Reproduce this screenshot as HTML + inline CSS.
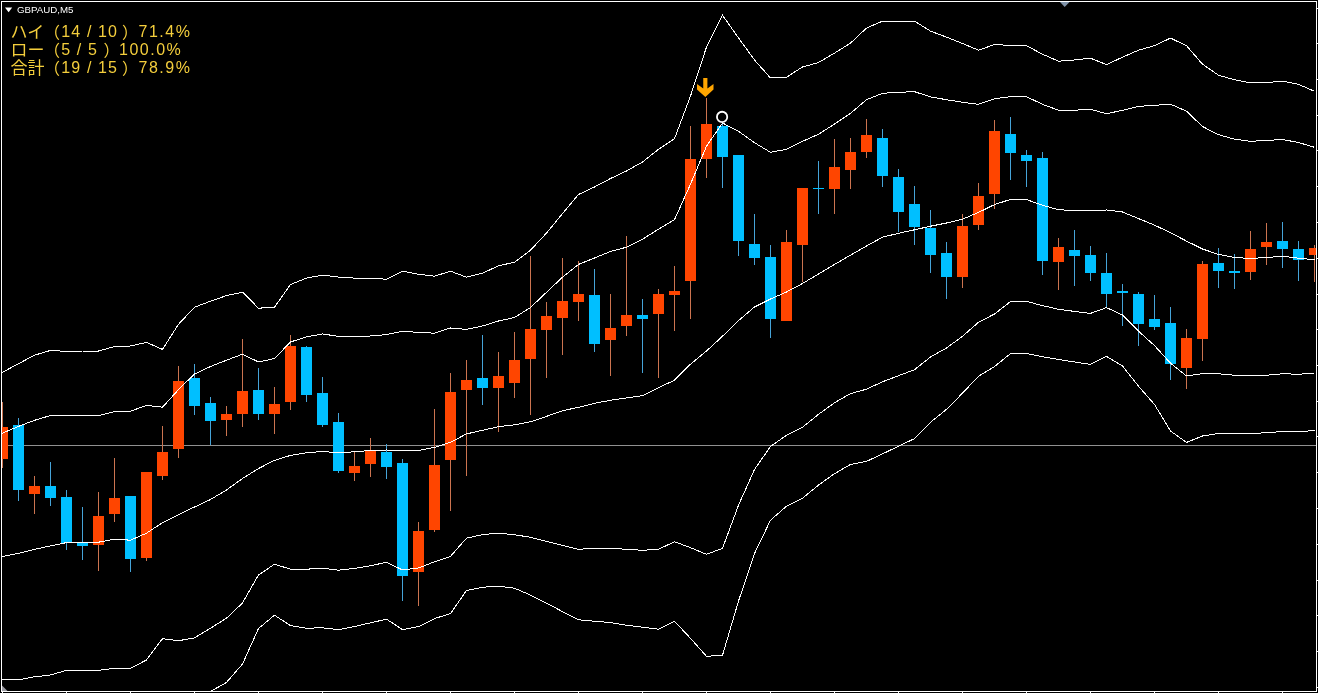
<!DOCTYPE html>
<html lang="ja"><head><meta charset="utf-8"><title>GBPAUD,M5</title>
<style>
html,body{margin:0;padding:0;background:#000;}
body{width:1318px;height:693px;position:relative;overflow:hidden;font-family:"Liberation Sans","Noto Sans CJK JP",sans-serif;}
#title{position:absolute;left:17px;top:3.5px;color:#fff;font-size:9.7px;line-height:11px;white-space:nowrap;}
.st{position:absolute;left:0;color:#F4CE3C;font-size:16px;line-height:18px;height:18px;white-space:nowrap;}
.st span{position:absolute;top:0;letter-spacing:1.15px;}
.st span.p{letter-spacing:1.5px;}
.st span.j{letter-spacing:0;top:1px;font-family:"Liberation Sans","Noto Sans CJK JP",sans-serif;}
.st span.k{font-size:17px;top:1px;}
</style></head><body>
<svg width="1318" height="693" viewBox="0 0 1318 693" shape-rendering="crispEdges" style="position:absolute;left:0;top:0">
<defs><clipPath id="cp"><rect x="2" y="2" width="1314" height="689"/></clipPath></defs>
<g clip-path="url(#cp)">
<rect x="2" y="445" width="1314" height="1" fill="#909090"/>
<rect x="2" y="402" width="1" height="25" fill="#CC7450"/>
<rect x="2" y="459" width="1" height="9" fill="#CC7450"/>
<rect x="-3" y="427" width="11" height="32" fill="#FF4500"/>
<rect x="18" y="418" width="1" height="7" fill="#46A4D8"/>
<rect x="18" y="490" width="1" height="11" fill="#46A4D8"/>
<rect x="13" y="425" width="11" height="65" fill="#00BFFF"/>
<rect x="34" y="476" width="1" height="10" fill="#CC7450"/>
<rect x="34" y="494" width="1" height="20" fill="#CC7450"/>
<rect x="29" y="486" width="11" height="8" fill="#FF4500"/>
<rect x="50" y="462" width="1" height="24" fill="#46A4D8"/>
<rect x="50" y="498" width="1" height="8" fill="#46A4D8"/>
<rect x="45" y="486" width="11" height="12" fill="#00BFFF"/>
<rect x="66" y="490" width="1" height="7" fill="#46A4D8"/>
<rect x="66" y="543" width="1" height="7" fill="#46A4D8"/>
<rect x="61" y="497" width="11" height="46" fill="#00BFFF"/>
<rect x="82" y="507" width="1" height="35" fill="#46A4D8"/>
<rect x="82" y="546" width="1" height="14" fill="#46A4D8"/>
<rect x="77" y="542" width="11" height="4" fill="#00BFFF"/>
<rect x="98" y="492" width="1" height="24" fill="#CC7450"/>
<rect x="98" y="545" width="1" height="26" fill="#CC7450"/>
<rect x="93" y="516" width="11" height="29" fill="#FF4500"/>
<rect x="114" y="458" width="1" height="40" fill="#CC7450"/>
<rect x="114" y="514" width="1" height="8" fill="#CC7450"/>
<rect x="109" y="498" width="11" height="16" fill="#FF4500"/>
<rect x="130" y="559" width="1" height="13" fill="#46A4D8"/>
<rect x="125" y="496" width="11" height="63" fill="#00BFFF"/>
<rect x="146" y="558" width="1" height="3" fill="#CC7450"/>
<rect x="141" y="472" width="11" height="86" fill="#FF4500"/>
<rect x="162" y="426" width="1" height="26" fill="#CC7450"/>
<rect x="162" y="476" width="1" height="4" fill="#CC7450"/>
<rect x="157" y="452" width="11" height="24" fill="#FF4500"/>
<rect x="178" y="366" width="1" height="15" fill="#CC7450"/>
<rect x="178" y="449" width="1" height="9" fill="#CC7450"/>
<rect x="173" y="381" width="11" height="68" fill="#FF4500"/>
<rect x="194" y="364" width="1" height="14" fill="#46A4D8"/>
<rect x="194" y="406" width="1" height="9" fill="#46A4D8"/>
<rect x="189" y="378" width="11" height="28" fill="#00BFFF"/>
<rect x="210" y="397" width="1" height="6" fill="#46A4D8"/>
<rect x="210" y="421" width="1" height="24" fill="#46A4D8"/>
<rect x="205" y="403" width="11" height="18" fill="#00BFFF"/>
<rect x="226" y="406" width="1" height="8" fill="#CC7450"/>
<rect x="226" y="420" width="1" height="16" fill="#CC7450"/>
<rect x="221" y="414" width="11" height="6" fill="#FF4500"/>
<rect x="242" y="339" width="1" height="52" fill="#CC7450"/>
<rect x="242" y="414" width="1" height="13" fill="#CC7450"/>
<rect x="237" y="391" width="11" height="23" fill="#FF4500"/>
<rect x="258" y="368" width="1" height="22" fill="#46A4D8"/>
<rect x="258" y="414" width="1" height="6" fill="#46A4D8"/>
<rect x="253" y="390" width="11" height="24" fill="#00BFFF"/>
<rect x="274" y="387" width="1" height="17" fill="#CC7450"/>
<rect x="274" y="414" width="1" height="20" fill="#CC7450"/>
<rect x="269" y="404" width="11" height="10" fill="#FF4500"/>
<rect x="290" y="335" width="1" height="11" fill="#CC7450"/>
<rect x="290" y="402" width="1" height="8" fill="#CC7450"/>
<rect x="285" y="346" width="11" height="56" fill="#FF4500"/>
<rect x="306" y="346" width="1" height="1" fill="#46A4D8"/>
<rect x="306" y="395" width="1" height="7" fill="#46A4D8"/>
<rect x="301" y="347" width="11" height="48" fill="#00BFFF"/>
<rect x="322" y="377" width="1" height="16" fill="#46A4D8"/>
<rect x="322" y="425" width="1" height="2" fill="#46A4D8"/>
<rect x="317" y="393" width="11" height="32" fill="#00BFFF"/>
<rect x="338" y="413" width="1" height="9" fill="#46A4D8"/>
<rect x="338" y="471" width="1" height="2" fill="#46A4D8"/>
<rect x="333" y="422" width="11" height="49" fill="#00BFFF"/>
<rect x="354" y="451" width="1" height="15" fill="#CC7450"/>
<rect x="354" y="473" width="1" height="8" fill="#CC7450"/>
<rect x="349" y="466" width="11" height="7" fill="#FF4500"/>
<rect x="370" y="438" width="1" height="12" fill="#CC7450"/>
<rect x="370" y="464" width="1" height="13" fill="#CC7450"/>
<rect x="365" y="450" width="11" height="14" fill="#FF4500"/>
<rect x="386" y="444" width="1" height="8" fill="#46A4D8"/>
<rect x="386" y="467" width="1" height="12" fill="#46A4D8"/>
<rect x="381" y="452" width="11" height="15" fill="#00BFFF"/>
<rect x="402" y="459" width="1" height="4" fill="#46A4D8"/>
<rect x="402" y="576" width="1" height="25" fill="#46A4D8"/>
<rect x="397" y="463" width="11" height="113" fill="#00BFFF"/>
<rect x="418" y="522" width="1" height="9" fill="#CC7450"/>
<rect x="418" y="572" width="1" height="34" fill="#CC7450"/>
<rect x="413" y="531" width="11" height="41" fill="#FF4500"/>
<rect x="434" y="409" width="1" height="56" fill="#CC7450"/>
<rect x="434" y="530" width="1" height="2" fill="#CC7450"/>
<rect x="429" y="465" width="11" height="65" fill="#FF4500"/>
<rect x="450" y="373" width="1" height="19" fill="#CC7450"/>
<rect x="450" y="460" width="1" height="51" fill="#CC7450"/>
<rect x="445" y="392" width="11" height="68" fill="#FF4500"/>
<rect x="466" y="360" width="1" height="20" fill="#CC7450"/>
<rect x="466" y="390" width="1" height="86" fill="#CC7450"/>
<rect x="461" y="380" width="11" height="10" fill="#FF4500"/>
<rect x="482" y="335" width="1" height="43" fill="#46A4D8"/>
<rect x="482" y="388" width="1" height="17" fill="#46A4D8"/>
<rect x="477" y="378" width="11" height="10" fill="#00BFFF"/>
<rect x="498" y="352" width="1" height="24" fill="#CC7450"/>
<rect x="498" y="388" width="1" height="44" fill="#CC7450"/>
<rect x="493" y="376" width="11" height="12" fill="#FF4500"/>
<rect x="514" y="332" width="1" height="28" fill="#CC7450"/>
<rect x="514" y="383" width="1" height="15" fill="#CC7450"/>
<rect x="509" y="360" width="11" height="23" fill="#FF4500"/>
<rect x="530" y="256" width="1" height="73" fill="#CC7450"/>
<rect x="530" y="359" width="1" height="56" fill="#CC7450"/>
<rect x="525" y="329" width="11" height="30" fill="#FF4500"/>
<rect x="546" y="302" width="1" height="14" fill="#CC7450"/>
<rect x="546" y="330" width="1" height="48" fill="#CC7450"/>
<rect x="541" y="316" width="11" height="14" fill="#FF4500"/>
<rect x="562" y="258" width="1" height="43" fill="#CC7450"/>
<rect x="562" y="318" width="1" height="37" fill="#CC7450"/>
<rect x="557" y="301" width="11" height="17" fill="#FF4500"/>
<rect x="578" y="261" width="1" height="33" fill="#CC7450"/>
<rect x="578" y="302" width="1" height="19" fill="#CC7450"/>
<rect x="573" y="294" width="11" height="8" fill="#FF4500"/>
<rect x="594" y="269" width="1" height="26" fill="#46A4D8"/>
<rect x="594" y="344" width="1" height="8" fill="#46A4D8"/>
<rect x="589" y="295" width="11" height="49" fill="#00BFFF"/>
<rect x="610" y="294" width="1" height="34" fill="#CC7450"/>
<rect x="610" y="340" width="1" height="36" fill="#CC7450"/>
<rect x="605" y="328" width="11" height="12" fill="#FF4500"/>
<rect x="626" y="236" width="1" height="79" fill="#CC7450"/>
<rect x="626" y="326" width="1" height="10" fill="#CC7450"/>
<rect x="621" y="315" width="11" height="11" fill="#FF4500"/>
<rect x="642" y="299" width="1" height="16" fill="#46A4D8"/>
<rect x="642" y="319" width="1" height="54" fill="#46A4D8"/>
<rect x="637" y="315" width="11" height="4" fill="#00BFFF"/>
<rect x="658" y="289" width="1" height="5" fill="#CC7450"/>
<rect x="658" y="314" width="1" height="64" fill="#CC7450"/>
<rect x="653" y="294" width="11" height="20" fill="#FF4500"/>
<rect x="674" y="266" width="1" height="25" fill="#CC7450"/>
<rect x="674" y="295" width="1" height="36" fill="#CC7450"/>
<rect x="669" y="291" width="11" height="4" fill="#FF4500"/>
<rect x="690" y="126" width="1" height="33" fill="#CC7450"/>
<rect x="690" y="281" width="1" height="38" fill="#CC7450"/>
<rect x="685" y="159" width="11" height="122" fill="#FF4500"/>
<rect x="706" y="98" width="1" height="26" fill="#CC7450"/>
<rect x="706" y="159" width="1" height="19" fill="#CC7450"/>
<rect x="701" y="124" width="11" height="35" fill="#FF4500"/>
<rect x="722" y="122" width="1" height="4" fill="#46A4D8"/>
<rect x="722" y="157" width="1" height="31" fill="#46A4D8"/>
<rect x="717" y="126" width="11" height="31" fill="#00BFFF"/>
<rect x="738" y="241" width="1" height="15" fill="#46A4D8"/>
<rect x="733" y="155" width="11" height="86" fill="#00BFFF"/>
<rect x="754" y="214" width="1" height="30" fill="#46A4D8"/>
<rect x="754" y="258" width="1" height="7" fill="#46A4D8"/>
<rect x="749" y="244" width="11" height="14" fill="#00BFFF"/>
<rect x="770" y="245" width="1" height="12" fill="#46A4D8"/>
<rect x="770" y="319" width="1" height="19" fill="#46A4D8"/>
<rect x="765" y="257" width="11" height="62" fill="#00BFFF"/>
<rect x="786" y="230" width="1" height="12" fill="#CC7450"/>
<rect x="781" y="242" width="11" height="79" fill="#FF4500"/>
<rect x="802" y="245" width="1" height="37" fill="#CC7450"/>
<rect x="797" y="188" width="11" height="57" fill="#FF4500"/>
<rect x="818" y="161" width="1" height="27" fill="#46A4D8"/>
<rect x="818" y="189" width="1" height="25" fill="#46A4D8"/>
<rect x="813" y="188" width="11" height="1" fill="#00BFFF"/>
<rect x="834" y="139" width="1" height="28" fill="#CC7450"/>
<rect x="834" y="189" width="1" height="25" fill="#CC7450"/>
<rect x="829" y="167" width="11" height="22" fill="#FF4500"/>
<rect x="850" y="138" width="1" height="14" fill="#CC7450"/>
<rect x="850" y="170" width="1" height="19" fill="#CC7450"/>
<rect x="845" y="152" width="11" height="18" fill="#FF4500"/>
<rect x="866" y="119" width="1" height="16" fill="#CC7450"/>
<rect x="866" y="152" width="1" height="6" fill="#CC7450"/>
<rect x="861" y="135" width="11" height="17" fill="#FF4500"/>
<rect x="882" y="129" width="1" height="9" fill="#46A4D8"/>
<rect x="882" y="176" width="1" height="11" fill="#46A4D8"/>
<rect x="877" y="138" width="11" height="38" fill="#00BFFF"/>
<rect x="898" y="169" width="1" height="8" fill="#46A4D8"/>
<rect x="898" y="212" width="1" height="20" fill="#46A4D8"/>
<rect x="893" y="177" width="11" height="35" fill="#00BFFF"/>
<rect x="914" y="186" width="1" height="18" fill="#46A4D8"/>
<rect x="914" y="227" width="1" height="18" fill="#46A4D8"/>
<rect x="909" y="204" width="11" height="23" fill="#00BFFF"/>
<rect x="930" y="210" width="1" height="18" fill="#46A4D8"/>
<rect x="930" y="255" width="1" height="18" fill="#46A4D8"/>
<rect x="925" y="228" width="11" height="27" fill="#00BFFF"/>
<rect x="946" y="242" width="1" height="11" fill="#46A4D8"/>
<rect x="946" y="277" width="1" height="22" fill="#46A4D8"/>
<rect x="941" y="253" width="11" height="24" fill="#00BFFF"/>
<rect x="962" y="214" width="1" height="12" fill="#CC7450"/>
<rect x="962" y="277" width="1" height="11" fill="#CC7450"/>
<rect x="957" y="226" width="11" height="51" fill="#FF4500"/>
<rect x="978" y="183" width="1" height="13" fill="#CC7450"/>
<rect x="978" y="225" width="1" height="5" fill="#CC7450"/>
<rect x="973" y="196" width="11" height="29" fill="#FF4500"/>
<rect x="994" y="120" width="1" height="11" fill="#CC7450"/>
<rect x="994" y="194" width="1" height="15" fill="#CC7450"/>
<rect x="989" y="131" width="11" height="63" fill="#FF4500"/>
<rect x="1010" y="117" width="1" height="17" fill="#46A4D8"/>
<rect x="1010" y="153" width="1" height="27" fill="#46A4D8"/>
<rect x="1005" y="134" width="11" height="19" fill="#00BFFF"/>
<rect x="1026" y="150" width="1" height="5" fill="#46A4D8"/>
<rect x="1026" y="161" width="1" height="26" fill="#46A4D8"/>
<rect x="1021" y="155" width="11" height="6" fill="#00BFFF"/>
<rect x="1042" y="152" width="1" height="6" fill="#46A4D8"/>
<rect x="1042" y="261" width="1" height="14" fill="#46A4D8"/>
<rect x="1037" y="158" width="11" height="103" fill="#00BFFF"/>
<rect x="1058" y="238" width="1" height="9" fill="#CC7450"/>
<rect x="1058" y="262" width="1" height="28" fill="#CC7450"/>
<rect x="1053" y="247" width="11" height="15" fill="#FF4500"/>
<rect x="1074" y="230" width="1" height="20" fill="#46A4D8"/>
<rect x="1074" y="256" width="1" height="30" fill="#46A4D8"/>
<rect x="1069" y="250" width="11" height="6" fill="#00BFFF"/>
<rect x="1090" y="246" width="1" height="9" fill="#46A4D8"/>
<rect x="1090" y="273" width="1" height="8" fill="#46A4D8"/>
<rect x="1085" y="255" width="11" height="18" fill="#00BFFF"/>
<rect x="1106" y="253" width="1" height="20" fill="#46A4D8"/>
<rect x="1106" y="294" width="1" height="13" fill="#46A4D8"/>
<rect x="1101" y="273" width="11" height="21" fill="#00BFFF"/>
<rect x="1122" y="284" width="1" height="7" fill="#46A4D8"/>
<rect x="1122" y="293" width="1" height="33" fill="#46A4D8"/>
<rect x="1117" y="291" width="11" height="2" fill="#00BFFF"/>
<rect x="1138" y="292" width="1" height="2" fill="#46A4D8"/>
<rect x="1138" y="324" width="1" height="22" fill="#46A4D8"/>
<rect x="1133" y="294" width="11" height="30" fill="#00BFFF"/>
<rect x="1154" y="295" width="1" height="24" fill="#46A4D8"/>
<rect x="1154" y="327" width="1" height="3" fill="#46A4D8"/>
<rect x="1149" y="319" width="11" height="8" fill="#00BFFF"/>
<rect x="1170" y="307" width="1" height="16" fill="#46A4D8"/>
<rect x="1170" y="364" width="1" height="16" fill="#46A4D8"/>
<rect x="1165" y="323" width="11" height="41" fill="#00BFFF"/>
<rect x="1186" y="329" width="1" height="9" fill="#CC7450"/>
<rect x="1186" y="368" width="1" height="21" fill="#CC7450"/>
<rect x="1181" y="338" width="11" height="30" fill="#FF4500"/>
<rect x="1202" y="261" width="1" height="3" fill="#CC7450"/>
<rect x="1202" y="339" width="1" height="22" fill="#CC7450"/>
<rect x="1197" y="264" width="11" height="75" fill="#FF4500"/>
<rect x="1218" y="248" width="1" height="15" fill="#46A4D8"/>
<rect x="1218" y="271" width="1" height="17" fill="#46A4D8"/>
<rect x="1213" y="263" width="11" height="8" fill="#00BFFF"/>
<rect x="1234" y="254" width="1" height="17" fill="#46A4D8"/>
<rect x="1234" y="273" width="1" height="16" fill="#46A4D8"/>
<rect x="1229" y="271" width="11" height="2" fill="#00BFFF"/>
<rect x="1250" y="231" width="1" height="18" fill="#CC7450"/>
<rect x="1250" y="272" width="1" height="8" fill="#CC7450"/>
<rect x="1245" y="249" width="11" height="23" fill="#FF4500"/>
<rect x="1266" y="223" width="1" height="19" fill="#CC7450"/>
<rect x="1266" y="247" width="1" height="18" fill="#CC7450"/>
<rect x="1261" y="242" width="11" height="5" fill="#FF4500"/>
<rect x="1282" y="222" width="1" height="19" fill="#46A4D8"/>
<rect x="1282" y="249" width="1" height="19" fill="#46A4D8"/>
<rect x="1277" y="241" width="11" height="8" fill="#00BFFF"/>
<rect x="1298" y="241" width="1" height="8" fill="#46A4D8"/>
<rect x="1298" y="260" width="1" height="21" fill="#46A4D8"/>
<rect x="1293" y="249" width="11" height="11" fill="#00BFFF"/>
<rect x="1314" y="245" width="1" height="3" fill="#CC7450"/>
<rect x="1314" y="255" width="1" height="27" fill="#CC7450"/>
<rect x="1309" y="248" width="11" height="7" fill="#FF4500"/>
<polyline fill="none" stroke="#FFFFFF" stroke-width="1" points="2.0,372.5 18.5,363.7 34.5,355.2 50.5,350.4 66.5,351.4 82.5,351.0 98.5,351.0 114.5,346.6 130.5,346.0 146.5,342.4 162.5,349.4 178.5,324.3 194.5,307.2 210.5,301.2 226.5,295.6 242.5,292.2 258.5,308.2 274.5,307.2 290.5,284.5 306.5,278.1 322.5,275.1 338.5,277.1 354.5,278.1 370.5,278.1 386.5,279.3 402.5,271.2 418.5,274.2 434.5,276.2 450.5,271.2 466.5,277.2 482.5,273.2 498.5,265.8 514.5,262.2 530.5,250.2 546.5,233.1 562.5,213.6 578.5,194.5 594.5,187.0 610.5,178.5 626.5,171.0 642.5,162.0 658.5,149.3 674.5,138.7 690.5,96.0 706.5,47.0 722.5,15.2 738.5,37.9 754.5,60.0 770.5,78.0 786.5,77.2 802.5,67.0 818.5,62.5 834.5,53.1 850.5,43.1 866.5,28.1 882.5,21.1 898.5,21.1 914.5,21.1 930.5,31.1 946.5,37.1 962.5,43.5 978.5,50.2 994.5,44.5 1010.5,45.5 1026.5,45.7 1042.5,54.2 1058.5,61.2 1074.5,60.0 1090.5,58.2 1106.5,64.6 1122.5,57.2 1138.5,50.2 1154.5,45.7 1170.5,38.1 1186.5,45.7 1202.5,64.2 1218.5,75.2 1234.5,79.8 1250.5,82.8 1266.5,82.6 1282.5,81.2 1298.5,84.3 1314.5,91.3"/>
<polyline fill="none" stroke="#FFFFFF" stroke-width="1" points="2.0,433.3 18.5,426.4 34.5,420.3 50.5,415.5 66.5,415.6 82.5,415.7 98.5,415.7 114.5,411.6 130.5,411.2 146.5,405.4 162.5,407.2 178.5,389.6 194.5,374.0 210.5,366.5 226.5,360.2 242.5,354.2 258.5,362.0 274.5,358.5 290.5,342.0 306.5,336.8 322.5,334.0 338.5,336.3 354.5,336.3 370.5,336.0 386.5,334.6 402.5,331.2 418.5,332.4 434.5,333.2 450.5,328.0 466.5,329.4 482.5,326.0 498.5,321.0 514.5,317.5 530.5,307.5 546.5,292.3 562.5,277.2 578.5,264.4 594.5,258.0 610.5,251.5 626.5,247.2 642.5,239.2 658.5,229.2 674.5,219.7 690.5,184.1 706.5,146.2 722.5,123.0 738.5,131.3 754.5,142.7 770.5,152.3 786.5,149.3 802.5,141.3 818.5,134.3 834.5,124.0 850.5,113.3 866.5,99.7 882.5,93.3 898.5,92.3 914.5,91.7 930.5,96.9 946.5,99.7 962.5,102.3 978.5,104.3 994.5,98.7 1010.5,96.7 1026.5,96.7 1042.5,104.3 1058.5,110.2 1074.5,110.2 1090.5,109.3 1106.5,113.7 1122.5,110.3 1138.5,106.4 1154.5,105.3 1170.5,104.2 1186.5,111.2 1202.5,126.5 1218.5,134.7 1234.5,139.2 1250.5,141.3 1266.5,140.5 1282.5,139.5 1298.5,142.5 1314.5,147.3"/>
<polyline fill="none" stroke="#FFFFFF" stroke-width="1" points="2.0,556.7 18.5,553.3 34.5,549.3 50.5,545.9 66.5,542.6 82.5,542.6 98.5,542.2 114.5,539.2 130.5,540.2 146.5,533.2 162.5,522.6 178.5,514.6 194.5,507.0 210.5,499.5 226.5,490.0 242.5,478.5 258.5,468.5 274.5,460.4 290.5,455.4 306.5,452.8 322.5,451.4 338.5,452.8 354.5,451.8 370.5,450.4 386.5,450.0 402.5,451.0 418.5,450.4 434.5,447.4 450.5,442.3 466.5,433.9 482.5,430.3 498.5,426.7 514.5,424.8 530.5,421.8 546.5,416.4 562.5,410.7 578.5,407.3 594.5,403.3 610.5,400.3 626.5,397.9 642.5,395.7 658.5,387.7 674.5,380.2 690.5,364.2 706.5,351.0 722.5,336.2 738.5,320.7 754.5,307.0 770.5,299.0 786.5,292.0 802.5,283.5 818.5,274.0 834.5,264.5 850.5,255.1 866.5,246.0 882.5,237.2 898.5,233.3 914.5,229.8 930.5,226.2 946.5,223.0 962.5,219.2 978.5,212.4 994.5,204.6 1010.5,199.4 1026.5,199.6 1042.5,205.2 1058.5,209.8 1074.5,210.4 1090.5,211.0 1106.5,210.0 1122.5,212.0 1138.5,218.6 1154.5,225.1 1170.5,232.7 1186.5,241.1 1202.5,249.0 1218.5,254.4 1234.5,257.5 1250.5,258.5 1266.5,257.5 1282.5,256.2 1298.5,258.2 1314.5,259.8"/>
<polyline fill="none" stroke="#FFFFFF" stroke-width="1" points="2.0,679.8 18.5,679.8 34.5,676.8 50.5,675.0 66.5,670.3 82.5,670.3 98.5,670.3 114.5,668.3 130.5,668.3 146.5,660.0 162.5,638.7 178.5,640.7 194.5,637.9 210.5,628.2 226.5,618.2 242.5,603.0 258.5,575.0 274.5,564.2 290.5,569.2 306.5,569.2 322.5,568.2 338.5,570.2 354.5,568.4 370.5,565.8 386.5,562.2 402.5,570.0 418.5,568.0 434.5,561.8 450.5,556.4 466.5,538.2 482.5,534.6 498.5,533.2 514.5,534.7 530.5,537.3 546.5,541.3 562.5,545.3 578.5,549.3 594.5,548.3 610.5,548.3 626.5,549.3 642.5,550.3 658.5,549.3 674.5,541.7 690.5,547.7 706.5,554.3 722.5,548.3 738.5,505.2 754.5,469.4 770.5,446.5 786.5,435.3 802.5,427.3 818.5,414.3 834.5,402.8 850.5,393.6 866.5,389.2 882.5,381.8 898.5,375.7 914.5,369.7 930.5,357.0 946.5,348.0 962.5,336.3 978.5,322.3 994.5,314.0 1010.5,301.6 1026.5,301.4 1042.5,305.6 1058.5,309.3 1074.5,311.4 1090.5,313.4 1106.5,307.6 1122.5,315.0 1138.5,331.2 1154.5,345.6 1170.5,363.2 1186.5,376.0 1202.5,373.6 1218.5,373.8 1234.5,375.2 1250.5,375.6 1266.5,375.2 1282.5,373.8 1298.5,374.2 1314.5,373.4"/>
<polyline fill="none" stroke="#FFFFFF" stroke-width="1" points="194.5,700.0 210.5,691.5 226.5,682.4 242.5,664.0 258.5,628.5 274.5,615.2 290.5,625.6 306.5,628.2 322.5,627.8 338.5,629.6 354.5,626.6 370.5,622.8 386.5,619.2 402.5,629.6 418.5,626.6 434.5,618.6 450.5,613.6 466.5,590.5 482.5,587.2 498.5,586.2 514.5,588.2 530.5,595.1 546.5,603.1 562.5,611.6 578.5,619.8 594.5,621.2 610.5,622.6 626.5,625.2 642.5,627.2 658.5,629.2 674.5,621.2 690.5,638.3 706.5,656.3 722.5,655.3 738.5,601.1 754.5,553.5 770.5,520.2 786.5,506.2 802.5,498.2 818.5,485.1 834.5,473.7 850.5,464.4 866.5,461.4 882.5,453.9 898.5,446.2 914.5,438.6 930.5,422.3 946.5,409.3 962.5,393.2 978.5,376.2 994.5,366.6 1010.5,353.6 1026.5,353.6 1042.5,356.8 1058.5,359.5 1074.5,362.0 1090.5,364.4 1106.5,356.4 1122.5,366.0 1138.5,386.2 1154.5,404.5 1170.5,431.0 1186.5,442.4 1202.5,436.0 1218.5,433.4 1234.5,433.4 1250.5,433.4 1266.5,432.8 1282.5,431.4 1298.5,431.8 1314.5,430.4"/>
</g>
<circle cx="722.1" cy="116.9" r="5.15" fill="#000" stroke="#FFFFFF" stroke-width="1.8" shape-rendering="auto"/>
<path shape-rendering="auto" fill="#FFA500" d="M703.25 77.9 H707.4 V88.5 L713.5 84 V89.5 L705.35 97.1 L697 89.5 V84 L703.25 88.5 Z"/>
<rect x="1" y="1" width="1316" height="1" fill="#fff"/>
<rect x="1" y="1" width="1" height="691" fill="#fff"/>
<rect x="1316" y="1" width="1" height="691" fill="#fff"/>
<rect x="1" y="691" width="1316" height="1" fill="#fff"/>
<rect x="2" y="692" width="1" height="1" fill="#fff"/>
<rect x="66" y="692" width="1" height="1" fill="#fff"/>
<rect x="130" y="692" width="1" height="1" fill="#fff"/>
<rect x="194" y="692" width="1" height="1" fill="#fff"/>
<rect x="258" y="692" width="1" height="1" fill="#fff"/>
<rect x="322" y="692" width="1" height="1" fill="#fff"/>
<rect x="386" y="692" width="1" height="1" fill="#fff"/>
<rect x="450" y="692" width="1" height="1" fill="#fff"/>
<rect x="514" y="692" width="1" height="1" fill="#fff"/>
<rect x="578" y="692" width="1" height="1" fill="#fff"/>
<rect x="642" y="692" width="1" height="1" fill="#fff"/>
<rect x="706" y="692" width="1" height="1" fill="#fff"/>
<rect x="770" y="692" width="1" height="1" fill="#fff"/>
<rect x="834" y="692" width="1" height="1" fill="#fff"/>
<rect x="898" y="692" width="1" height="1" fill="#fff"/>
<rect x="962" y="692" width="1" height="1" fill="#fff"/>
<rect x="1026" y="692" width="1" height="1" fill="#fff"/>
<rect x="1090" y="692" width="1" height="1" fill="#fff"/>
<rect x="1154" y="692" width="1" height="1" fill="#fff"/>
<rect x="1218" y="692" width="1" height="1" fill="#fff"/>
<rect x="1282" y="692" width="1" height="1" fill="#fff"/>
<rect x="1317" y="8" width="1" height="1" fill="#fff"/>
<rect x="1317" y="43" width="1" height="1" fill="#fff"/>
<rect x="1317" y="79" width="1" height="1" fill="#fff"/>
<rect x="1317" y="115" width="1" height="1" fill="#fff"/>
<rect x="1317" y="150" width="1" height="1" fill="#fff"/>
<rect x="1317" y="186" width="1" height="1" fill="#fff"/>
<rect x="1317" y="222" width="1" height="1" fill="#fff"/>
<rect x="1317" y="258" width="1" height="1" fill="#fff"/>
<rect x="1317" y="294" width="1" height="1" fill="#fff"/>
<rect x="1317" y="329" width="1" height="1" fill="#fff"/>
<rect x="1317" y="365" width="1" height="1" fill="#fff"/>
<rect x="1317" y="401" width="1" height="1" fill="#fff"/>
<rect x="1317" y="436" width="1" height="1" fill="#fff"/>
<rect x="1317" y="472" width="1" height="1" fill="#fff"/>
<rect x="1317" y="508" width="1" height="1" fill="#fff"/>
<rect x="1317" y="544" width="1" height="1" fill="#fff"/>
<rect x="1317" y="580" width="1" height="1" fill="#fff"/>
<rect x="1317" y="615" width="1" height="1" fill="#fff"/>
<rect x="1317" y="651" width="1" height="1" fill="#fff"/>
<rect x="1317" y="687" width="1" height="1" fill="#fff"/>
<polygon shape-rendering="auto" points="1060,2 1069.5,2 1064.7,7" fill="#7F92A8"/>
<polygon shape-rendering="auto" points="2,685.5 2,691 7.5,691" fill="#9A9AA2"/>
<polygon shape-rendering="auto" points="5,7.6 12.2,7.6 8.6,12.2" fill="#fff"/>
</svg>
<div id="title">GBPAUD,M5</div>
<div class="st" style="top:23px"><span class="j k" style="left:10.5px">ハイ</span><span class="j" style="left:44px">（</span><span style="left:61.2px">14 / 10</span><span class="j" style="left:122px">）</span><span class="p" style="left:138.5px">71.4%</span></div>
<div class="st" style="top:41px"><span class="j k" style="left:10.5px">ロー</span><span class="j" style="left:44px">（</span><span style="left:61.2px">5 / 5</span><span class="j" style="left:103.5px">）</span><span class="p" style="left:119px">100.0%</span></div>
<div class="st" style="top:59px"><span class="j k" style="left:10.5px">合計</span><span class="j" style="left:44px">（</span><span style="left:61.2px">19 / 15</span><span class="j" style="left:122px">）</span><span class="p" style="left:138.5px">78.9%</span></div>
</body></html>
